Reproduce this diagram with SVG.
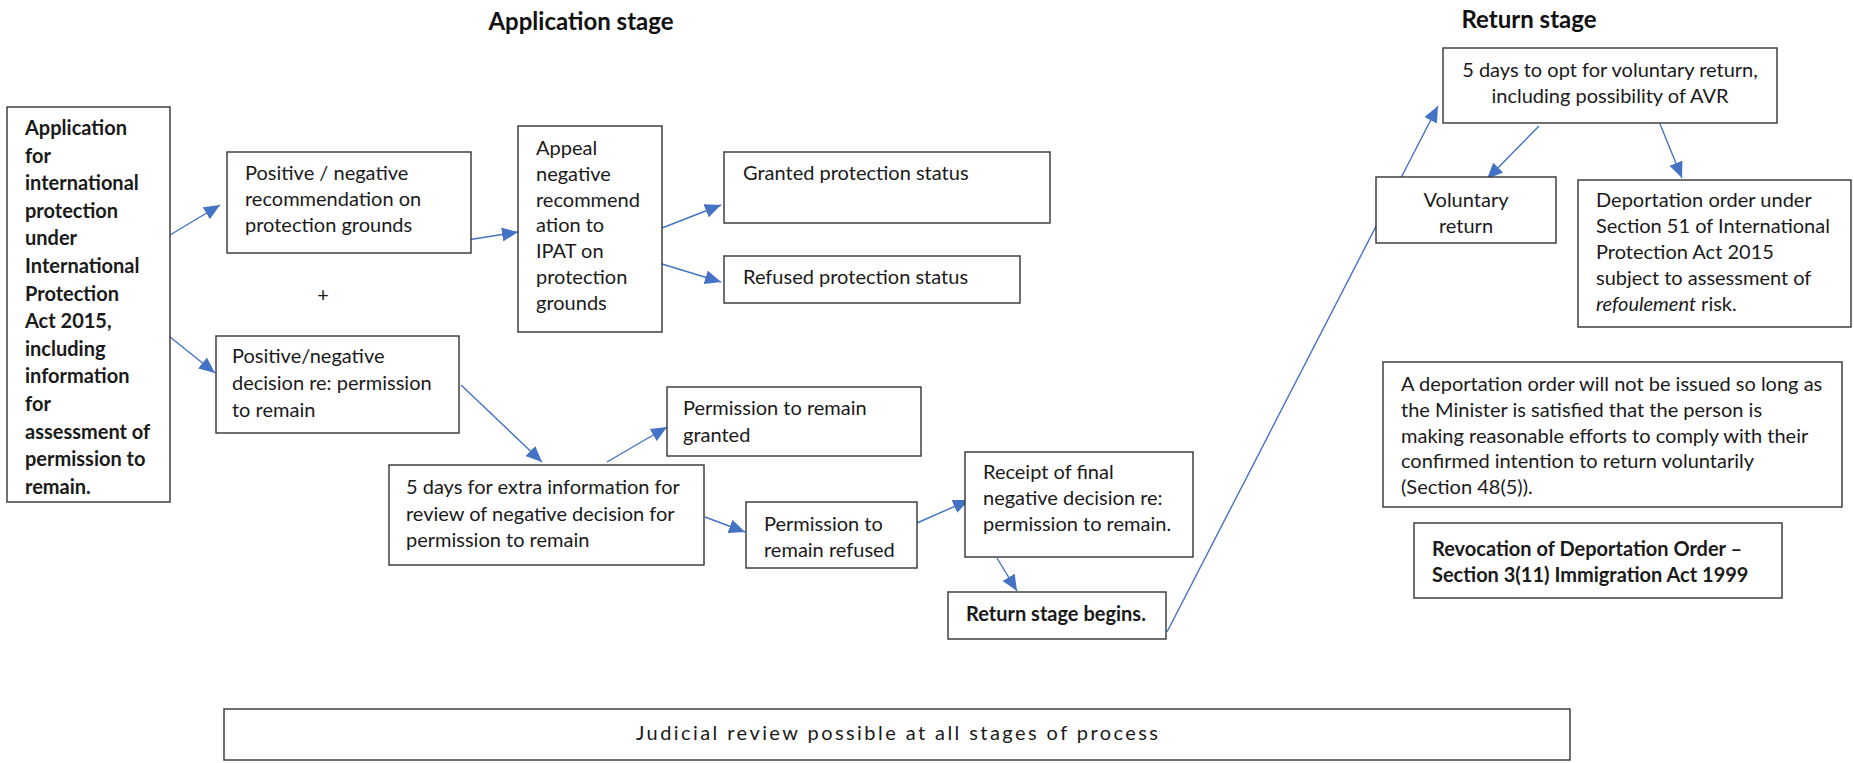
<svg xmlns="http://www.w3.org/2000/svg" width="1854" height="763" viewBox="0 0 1854 763">
<style>
  .box { fill: #ffffff; stroke: #333333; stroke-width: 1.4; }
  .t { font-family: Lato, "Liberation Sans", sans-serif; font-size: 20px; fill: #1a1a1a; }
  .b { font-weight: bold; }
  .title { font-family: Lato, "Liberation Sans", sans-serif; font-size: 24px; font-weight: bold; fill: #111111; }
  .c { text-anchor: middle; }
  .conn line { stroke: #4472C4; stroke-width: 1.4; marker-end: url(#ah); }
</style>
<defs>
  <marker id="ah" markerUnits="userSpaceOnUse" markerWidth="18" markerHeight="14" refX="16" refY="7" orient="auto">
    <path d="M0,0 L16,7 L0,14 Z" fill="#4472C4"/>
  </marker>
</defs>
<rect width="1854" height="763" fill="#ffffff"/>

<text class="title c" x="581" y="30">Application stage</text>
<text class="title c" x="1529" y="28">Return stage</text>

<g id="connectors" class="conn">
  <line x1="170" y1="235" x2="220" y2="205"/>
  <line x1="170" y1="337" x2="215" y2="373"/>
  <line x1="461" y1="241" x2="518" y2="232"/>
  <line x1="662" y1="228" x2="721" y2="205"/>
  <line x1="662" y1="264" x2="721" y2="282"/>
  <line x1="461" y1="385" x2="542" y2="462"/>
  <line x1="607" y1="462" x2="667" y2="427"/>
  <line x1="705" y1="517" x2="745" y2="532"/>
  <line x1="917" y1="523" x2="969" y2="500"/>
  <line x1="997" y1="558" x2="1017" y2="591"/>
  <line x1="1167" y1="632" x2="1438" y2="106"/>
  <line x1="1539" y1="126" x2="1487" y2="179"/>
  <line x1="1660" y1="124" x2="1682" y2="178"/>
</g>

<g id="app">
  <rect class="box" x="7" y="107" width="163" height="395"/>
  <text class="t b">
    <tspan x="25" y="135">Application</tspan>
    <tspan x="25" y="162.6">for</tspan>
    <tspan x="25" y="190.2">international</tspan>
    <tspan x="25" y="217.8">protection</tspan>
    <tspan x="25" y="245.4">under</tspan>
    <tspan x="25" y="273">International</tspan>
    <tspan x="25" y="300.6">Protection</tspan>
    <tspan x="25" y="328.2">Act 2015,</tspan>
    <tspan x="25" y="355.8">including</tspan>
    <tspan x="25" y="383.4">information</tspan>
    <tspan x="25" y="411">for</tspan>
    <tspan x="25" y="438.6">assessment of</tspan>
    <tspan x="25" y="466.2">permission to</tspan>
    <tspan x="25" y="493.8">remain.</tspan>
  </text>
</g>

<g id="posrec">
  <rect class="box" x="227" y="152" width="244" height="101"/>
  <text class="t"><tspan x="245" y="180">Positive / negative</tspan><tspan x="245" y="206">recommendation on</tspan><tspan x="245" y="232">protection grounds</tspan></text>
</g>

<g id="plus"><text class="t" x="323" y="302" text-anchor="middle" font-size="15">+</text></g>

<g id="decision">
  <rect class="box" x="216" y="336" width="243" height="97"/>
  <text class="t"><tspan x="232" y="363">Positive/negative</tspan><tspan x="232" y="390">decision re: permission</tspan><tspan x="232" y="417">to remain</tspan></text>
</g>

<g id="appeal">
  <rect class="box" x="518" y="126" width="144" height="206"/>
  <text class="t"><tspan x="536" y="155">Appeal</tspan><tspan x="536" y="181">negative</tspan><tspan x="536" y="207">recommend</tspan><tspan x="536" y="232">ation to</tspan><tspan x="536" y="258">IPAT on</tspan><tspan x="536" y="284">protection</tspan><tspan x="536" y="310">grounds</tspan></text>
</g>

<g id="granted">
  <rect class="box" x="724" y="152" width="326" height="71"/>
  <text class="t" x="743" y="180">Granted protection status</text>
</g>

<g id="refused">
  <rect class="box" x="724" y="256" width="296" height="47"/>
  <text class="t" x="743" y="284">Refused protection status</text>
</g>

<g id="fivedays">
  <rect class="box" x="389" y="465" width="315" height="100"/>
  <text class="t"><tspan x="406" y="494">5 days for extra information for</tspan><tspan x="406" y="521">review of negative decision for</tspan><tspan x="406" y="547">permission to remain</tspan></text>
</g>

<g id="permgranted">
  <rect class="box" x="667" y="387" width="254" height="69"/>
  <text class="t"><tspan x="683" y="415">Permission to remain</tspan><tspan x="683" y="442">granted</tspan></text>
</g>

<g id="permrefused">
  <rect class="box" x="746" y="502" width="171" height="66"/>
  <text class="t"><tspan x="764" y="531">Permission to</tspan><tspan x="764" y="557">remain refused</tspan></text>
</g>

<g id="receipt">
  <rect class="box" x="965" y="452" width="228" height="105"/>
  <text class="t"><tspan x="983" y="479">Receipt of final</tspan><tspan x="983" y="505">negative decision re:</tspan><tspan x="983" y="531">permission to remain.</tspan></text>
</g>

<g id="returnbegins">
  <rect class="box" x="948" y="592" width="218" height="47"/>
  <text class="t b" x="966" y="621">Return stage begins.</text>
</g>

<g id="fivedaysreturn">
  <rect class="box" x="1443" y="48" width="334" height="75"/>
  <text class="t c"><tspan x="1610" y="77">5 days to opt for voluntary return,</tspan><tspan x="1610" y="103">including possibility of AVR</tspan></text>
</g>

<g id="voluntary">
  <rect class="box" x="1376" y="177" width="180" height="66"/>
  <text class="t c"><tspan x="1466" y="207">Voluntary</tspan><tspan x="1466" y="233">return</tspan></text>
</g>

<g id="deport">
  <rect class="box" x="1578" y="180" width="273" height="147"/>
  <text class="t"><tspan x="1596" y="207">Deportation order under</tspan><tspan x="1596" y="233">Section 51 of International</tspan><tspan x="1596" y="259">Protection Act 2015</tspan><tspan x="1596" y="285">subject to assessment of</tspan><tspan x="1596" y="311" font-style="italic">refoulement</tspan><tspan> risk.</tspan></text>
</g>

<g id="minister">
  <rect class="box" x="1383" y="362" width="459" height="145"/>
  <text class="t"><tspan x="1401" y="391">A deportation order will not be issued so long as</tspan><tspan x="1401" y="417">the Minister is satisfied that the person is</tspan><tspan x="1401" y="443">making reasonable efforts to comply with their</tspan><tspan x="1401" y="468">confirmed intention to return voluntarily</tspan><tspan x="1401" y="494">(Section 48(5)).</tspan></text>
</g>

<g id="revocation">
  <rect class="box" x="1414" y="523" width="368" height="75"/>
  <text class="t b"><tspan x="1432" y="556">Revocation of Deportation Order –</tspan><tspan x="1432" y="582">Section 3(11) Immigration Act 1999</tspan></text>
</g>

<g id="judicial">
  <rect class="box" x="224" y="709" width="1346" height="51"/>
  <text class="t c" x="897" y="740" font-size="18" textLength="522" lengthAdjust="spacing">Judicial review possible at all stages of process</text>
</g>
</svg>
